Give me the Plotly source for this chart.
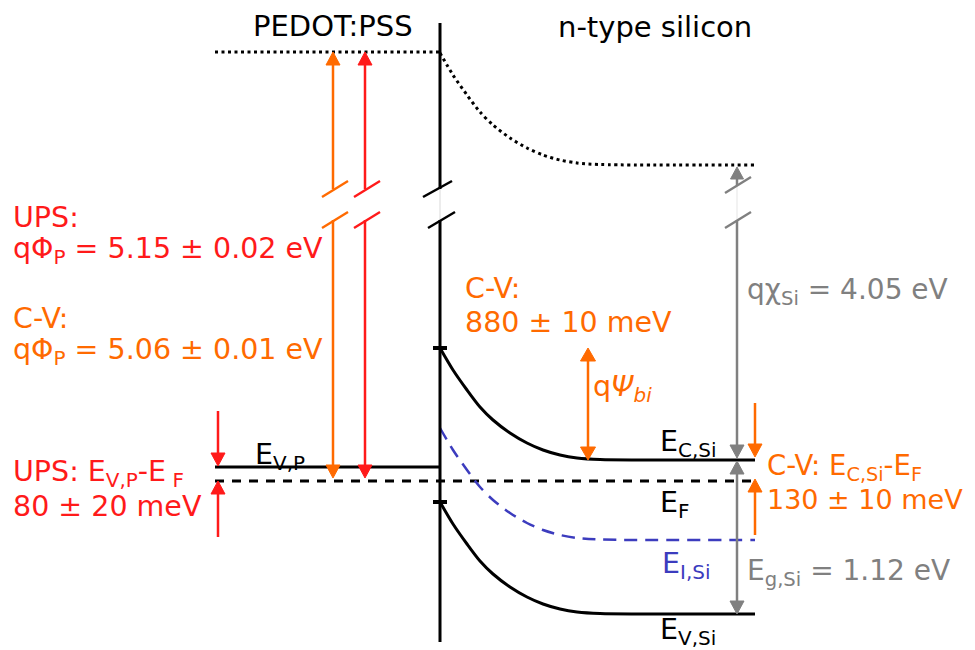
import plotly.graph_objects as go

# ---------------- data (diagram units; vertical axis = electron energy, drawn downward) ----------------
x_left = 215          # left end of PEDOT:PSS levels
x_if = 440            # interface
x_right = 755         # right end of silicon levels

# PEDOT:PSS side levels
vac_left = 52
ev_p = 467
e_f = 481

# silicon levels at the interface (bulk = interface + built-in bending)
vac_if = 53
ec_if = 348
ei_if = 428
ev_if = 502

# band-bending profile: horizontal position and drop below interface value
bend_x = [440, 453, 467, 480, 493, 510, 527, 543, 560, 577, 600, 755]
bend_drop = [0, 22, 42, 59, 72, 85, 95, 102, 107, 110, 111.5, 112]

# measurement arrow positions
x_cv_phi = 333
x_ups_phi = 365
x_psi = 588
x_chi = 737
x_small_left = 218
x_small_right = 755
break_y = [189, 220]

# colours
BLACK = "#000000"
RED = "#ff1a1a"
ORANGE = "#ff6a00"
GRAY = "#808080"
BLUE = "#3c3cbe"
FONT = "DejaVu Sans"

# page offset of the plot div (default body margin) and window size
PAGE_OFF = 8
WIN_W, WIN_H = 975, 650

bulk_drop = bend_drop[-1]
vac_bulk = vac_if + bulk_drop
ec_bulk = ec_if + bulk_drop
ei_bulk = ei_if + bulk_drop
ev_bulk = ev_if + bulk_drop

fig = go.Figure()
shapes = []


def hline(x0, x1, y, color, width=3, dash="solid"):
    fig.add_trace(go.Scatter(x=[x0, x1], y=[y, y], mode="lines",
                             line=dict(color=color, width=width, dash=dash),
                             hoverinfo="skip", showlegend=False))


def band(level, color, width=3, dash="solid"):
    fig.add_trace(go.Scatter(x=bend_x, y=[level + d for d in bend_drop], mode="lines",
                             line=dict(color=color, width=width, dash=dash, shape="spline", smoothing=0.8),
                             hoverinfo="skip", showlegend=False))


def seg(x0, y0, x1, y1, color, width=2.5):
    shapes.append(dict(type="line", xref="x", yref="y", x0=x0, y0=y0, x1=x1, y1=y1,
                       line=dict(color=color, width=width), layer="above"))


def head(x, ytip, direction, color, w=14, h=13):
    # direction +1: pointing down, -1: pointing up
    yb = ytip - direction * h
    shapes.append(dict(type="path", xref="x", yref="y",
                       path=f"M {x} {ytip} L {x - w / 2} {yb} L {x + w / 2} {yb} Z",
                       fillcolor=color, line=dict(color=color, width=1), layer="above"))


def arrow(x, y_from, y_tip, color, h=13, w=14, width=2.5):
    d = 1 if y_tip > y_from else -1
    seg(x, y_from, x, y_tip - d * h, color, width)
    head(x, y_tip, d, color, w, h)


def dbl_arrow(x, y_top, y_bot, color, h=13, w=14, width=2.5):
    seg(x, y_top + h, x, y_bot - h, color, width)
    head(x, y_top, -1, color, w, h)
    head(x, y_bot, 1, color, w, h)


def brk(x, y, color, width=2.5):
    seg(x - 13, y + 8, x + 13, y - 8, color, width)


# ---------------- levels ----------------
hline(x_left, x_if, vac_left, BLACK, 3, "3px,3.5px")
hline(x_left, x_if, ev_p, BLACK, 3)
hline(x_left, x_right, e_f, BLACK, 3, "9px,8px")
band(vac_if, BLACK, 3, "3px,3.5px")
band(ec_if, BLACK, 3)
band(ei_if, BLUE, 2.5, "13px,8px")
band(ev_if, BLACK, 3)

# interface line with break
seg(x_if, 23, x_if, break_y[0], BLACK, 3)
seg(x_if, break_y[0], x_if, break_y[1], "#e6e6e6", 1.5)
seg(x_if, break_y[1], x_if, 642, BLACK, 3)
seg(x_if - 17, break_y[0] + 8, x_if + 12, break_y[0] - 8, BLACK, 2.5)
seg(x_if - 12, break_y[1] + 8, x_if + 15, break_y[1] - 8, BLACK, 2.5)
# interface ticks
seg(x_if - 7, ec_if, x_if + 7, ec_if, BLACK, 4)
seg(x_if - 7, ev_if, x_if + 7, ev_if, BLACK, 4)

# ---------------- work-function arrows (broken) ----------------
for xa, col in [(x_cv_phi, ORANGE), (x_ups_phi, RED)]:
    arrow(xa, break_y[0], vac_left, col)
    arrow(xa, break_y[1], 478, col)
    brk(xa + 2, break_y[0], col)
    brk(xa + 2, break_y[1], col)

# electron affinity arrow (broken)
arrow(x_chi, 185, vac_bulk + 2, GRAY, h=12, w=13)
seg(x_chi, break_y[0] - 4, x_chi, break_y[1], "#eeeeee", 1.5)
arrow(x_chi, break_y[1], ec_bulk - 2, GRAY)
brk(x_chi + 1, 185, GRAY)
brk(x_chi + 1, break_y[1], GRAY)

# band gap arrow
dbl_arrow(x_chi, ec_bulk + 1, ev_bulk, GRAY)

# built-in potential arrow
dbl_arrow(x_psi, ec_if, ec_bulk, ORANGE, h=13, w=15)

# small offset arrows
arrow(x_small_left, 411, ev_p - 1, RED)
arrow(x_small_left, 537, e_f, RED)
arrow(x_small_right, 403, ec_bulk - 3, ORANGE)
arrow(x_small_right, 535, e_f - 2, ORANGE)

# ---------------- text ----------------
labels = [
    ("PEDOT:PSS", 251, 26, BLACK, 29),
    ("n-type silicon", 556, 27, BLACK, 29),
    ("UPS:", 11, 217, RED, 28.5),
    ("qΦ<sub>P</sub> = 5.15 ± 0.02 eV", 11, 250, RED, 28.5),
    ("C-V:", 11, 318, ORANGE, 28.5),
    ("qΦ<sub>P</sub> = 5.06 ± 0.01 eV", 11, 351, ORANGE, 28.5),
    ("C-V:", 463, 288, ORANGE, 28.5),
    ("880 ± 10 meV", 463, 322, ORANGE, 28.5),
    ("q<i>Ψ</i><sub><i>bi</i></sub>", 591, 388, ORANGE, 28.5),
    ("qχ<sub>Si</sub> = 4.05 eV", 745, 291, GRAY, 28),
    ("E<sub>V,P</sub>", 253, 456, BLACK, 28.5),
    ("UPS: E<sub>V,P</sub>-E<sub> F</sub>", 11, 473, RED, 28.5),
    ("80 ± 20 meV", 11, 506, RED, 28.5),
    ("E<sub>C,Si</sub>", 658, 443, BLACK, 28.5),
    ("C-V: E<sub>C,Si</sub>-E<sub>F</sub>", 765, 467, ORANGE, 27.5),
    ("130 ± 10 meV", 765, 499, ORANGE, 27),
    ("E<sub>F</sub>", 658, 504, BLACK, 28.5),
    ("E<sub>I,Si</sub>", 660, 565, BLUE, 28.5),
    ("E<sub>g,Si</sub> = 1.12 eV", 745, 572, GRAY, 28),
    ("E<sub>V,Si</sub>", 658, 631, BLACK, 28.5),
]
annotations = []
for txt, x, y, col, size in labels:
    annotations.append(dict(text=txt, x=x, y=y, xref="x", yref="y", showarrow=False,
                            xanchor="left", yanchor="middle",
                            font=dict(family=FONT, size=size, color=col)))

fig.update_layout(
    width=WIN_W - PAGE_OFF, height=WIN_H - PAGE_OFF,
    margin=dict(l=0, r=0, t=0, b=0),
    paper_bgcolor="white", plot_bgcolor="white",
    xaxis=dict(range=[PAGE_OFF, WIN_W], visible=False, fixedrange=True),
    yaxis=dict(range=[WIN_H, PAGE_OFF], visible=False, fixedrange=True),
    shapes=shapes, annotations=annotations, showlegend=False,
)

fig.write_html("out.html")
